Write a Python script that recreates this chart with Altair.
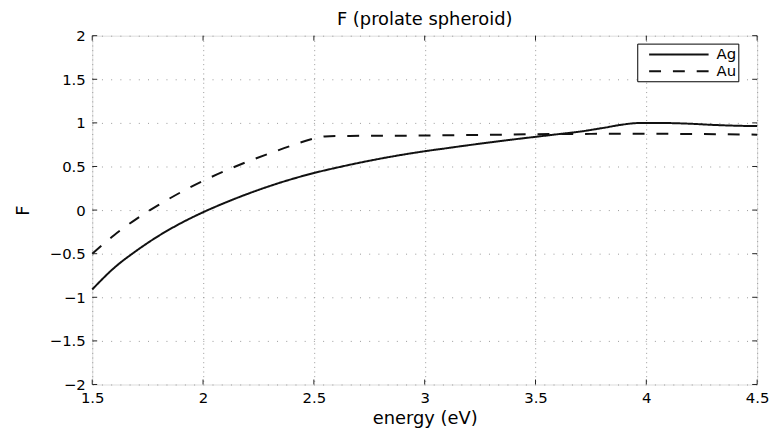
import altair as alt
import pandas as pd

# ---- data ----
energy_ag = [1.5, 1.6, 1.7, 1.8, 1.9, 2.0, 2.1, 2.2, 2.3, 2.4, 2.5, 2.6, 2.7, 2.8, 2.9, 3.0,
             3.1, 3.2, 3.3, 3.4, 3.5, 3.6, 3.7, 3.8, 3.9, 3.95, 4.0, 4.1, 4.2, 4.3, 4.4, 4.5]
f_ag = [-0.91, -0.66, -0.465, -0.295, -0.15, -0.025, 0.085, 0.185, 0.275, 0.355, 0.425, 0.485,
        0.54, 0.59, 0.635, 0.675, 0.71, 0.745, 0.778, 0.81, 0.84, 0.87, 0.9, 0.94, 0.983, 0.997,
        1.0, 0.998, 0.99, 0.977, 0.968, 0.963]

energy_au = [1.5, 1.6, 1.7, 1.8, 1.9, 2.0, 2.1, 2.2, 2.3, 2.4, 2.5, 2.55, 2.6, 2.8, 3.0,
             3.25, 3.5, 3.75, 4.0, 4.25, 4.5]
f_au = [-0.50, -0.285, -0.10, 0.06, 0.205, 0.335, 0.45, 0.555, 0.65, 0.74, 0.82, 0.845, 0.85,
        0.852, 0.855, 0.862, 0.87, 0.874, 0.875, 0.872, 0.865]

series_names = ["Ag", "Au"]
x_ticks = [1.5, 2, 2.5, 3, 3.5, 4, 4.5]
y_ticks = [-2, -1.5, -1, -0.5, 0, 0.5, 1, 1.5, 2]

W, H = 671, 352
FONT = "DejaVu Sans"
TICK_LEN = 5

df = pd.concat([
    pd.DataFrame({"E": energy_ag, "F": f_ag, "metal": series_names[0]}),
    pd.DataFrame({"E": energy_au, "F": f_au, "metal": series_names[1]}),
], ignore_index=True)

xscale = alt.Scale(domain=[1.5, 4.5], nice=False, zero=False)
yscale = alt.Scale(domain=[-2, 2], nice=False, zero=False)

x_axis = alt.Axis(values=x_ticks, format="~g", grid=True, gridDash=[1, 3.7],
                  gridColor="#999", ticks=False, domain=False, labelPadding=6,
                  labelFlush=False, labelFontSize=15, labelFont=FONT, labelColor="#000",
                  title="energy (eV)", titleFontSize=18, titleFont=FONT,
                  titleFontWeight="normal", titleBaseline="alphabetic", titleY=39,
                  titleColor="#000")
y_axis = alt.Axis(values=y_ticks, format="~g", grid=True, gridDash=[1, 8.3],
                  gridColor="#999", ticks=False, domain=False, labelPadding=7,
                  labelFlush=False, labelFontSize=15, labelFont=FONT, labelColor="#000",
                  title="F", titleFontSize=18, titleFont=FONT, titleFontWeight="normal",
                  titleAngle=270, titleBaseline="alphabetic", titleX=-64, titleY=H / 2,
                  titleColor="#000")

lines = alt.Chart(df).mark_line(strokeWidth=2, color="#111", interpolate="monotone").encode(
    x=alt.X("E:Q", scale=xscale, axis=x_axis, title="energy (eV)"),
    y=alt.Y("F:Q", scale=yscale, axis=y_axis, title="F"),
    strokeDash=alt.StrokeDash(
        "metal:N",
        scale=alt.Scale(domain=series_names, range=[[1, 0], [12, 12]]),
        legend=alt.Legend(orient="none", legendX=550, legendY=8, title=None,
                          symbolType="M-3.75,0H3.75", symbolSize=256, symbolOffset=31,
                          labelOffset=29, padding=2, rowPadding=0, strokeColor="#000",
                          fillColor="#fff", cornerRadius=0, labelFontSize=15, labelFont=FONT,
                          labelColor="#000", symbolStrokeWidth=2, symbolStrokeColor="#111",
                          labelExpr="datum.label + '   '")),
)

xt = pd.DataFrame({"E": x_ticks})
yt = pd.DataFrame({"F": y_ticks})
xs = alt.X("E:Q", scale=xscale, axis=x_axis, title="energy (eV)")
ys = alt.Y("F:Q", scale=yscale, axis=y_axis, title="F")

tick_bottom = alt.Chart(xt).mark_rule(color="#222").encode(x=xs, y=alt.value(H - TICK_LEN), y2=alt.value(H))
tick_top = alt.Chart(xt).mark_rule(color="#222").encode(x=xs, y=alt.value(0), y2=alt.value(TICK_LEN))
tick_left = alt.Chart(yt).mark_rule(color="#222").encode(y=ys, x=alt.value(0), x2=alt.value(TICK_LEN))
tick_right = alt.Chart(yt).mark_rule(color="#222").encode(y=ys, x=alt.value(W - TICK_LEN), x2=alt.value(W))

chart = alt.layer(lines, tick_bottom, tick_top, tick_left, tick_right).properties(
    width=W, height=H,
    title=alt.TitleParams("F (prolate spheroid)", fontSize=18, font=FONT, fontWeight="normal",
                          anchor="middle", frame="group", color="#000",
                          baseline="alphabetic", offset=-14),
    autosize=alt.AutoSizeParams(type="none"),
    padding={"left": 85, "top": 26, "right": 16, "bottom": 46},
).configure_view(stroke="#222", strokeWidth=1.2).configure(background="white")

chart.save("out.html", embed_options={"renderer": "svg", "actions": False})
